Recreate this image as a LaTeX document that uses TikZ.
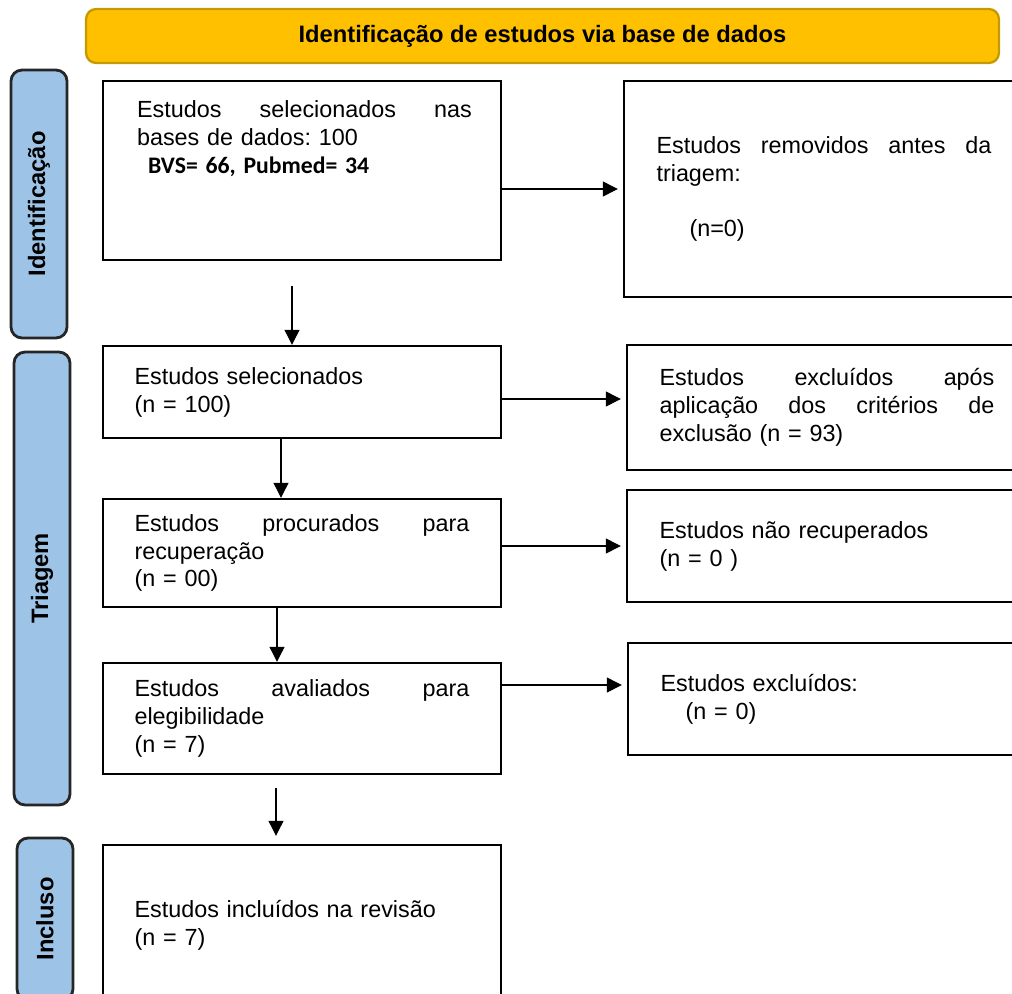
\documentclass[tikz,border=0pt]{standalone}
\usepackage{fontspec}
\setmainfont{Liberation Sans}
\newfontfamily\calibrifont{Carlito}
\usepackage{tikz}
\usetikzlibrary{arrows.meta}
\frenchspacing

\definecolor{headgold}{HTML}{FFC000}
\definecolor{headline}{HTML}{C49A00}
\definecolor{sideblue}{HTML}{9DC3E6}

\begin{document}
\begin{tikzpicture}[
  x=0.02cm, y=-0.02cm,
  every node/.style={font=\fontsize{13.3}{15.9}\selectfont},
  header/.style={draw=headline, line width=1.3pt, fill=headgold, rounded corners=0.2cm,
    minimum width=18.26cm, minimum height=1.08cm, font=\fontsize{13.5}{16}\selectfont\bfseries},
  phase/.style={draw=black!85, line width=1.6pt, fill=sideblue, rounded corners=0.22cm,
    rotate=90, minimum height=1.12cm, font=\fontsize{13.5}{16}\selectfont\bfseries},
  box/.style={draw, line width=1.4pt, text width=6.7cm, inner xsep=0.63cm, align=left},
  rbox/.style={box, inner xsep=0.65cm},
  arr/.style={-{Triangle[length=0.3cm,width=0.3cm]}, line width=0.7pt, shorten >=0.1cm}
]
\useasboundingbox (0,0) rectangle (1012,994);
\clip (0,0) rectangle (1012,994);

% --- cabecalho ---
\node[header] (head) at (542.5,36) {Identificação de estudos via base de dados};

% --- fases ---
\node[phase, minimum width=5.36cm] (fid)  at (39,204)   {Identificação};
\node[phase, minimum width=9.06cm] (ftri) at (42,578.5) {Triagem};
\node[phase, minimum width=3.24cm] (finc) at (45,919)   {Incluso};

% --- coluna esquerda ---
\node[box, minimum height=3.58cm] (b1) at (302,170.5) {};
\node[box, draw=none, inner sep=0pt, anchor=north west] (b1txt)
  at ([xshift=0.68cm,yshift=-0.4cm]b1.north west)
  {Estudos\hfill selecionados\hfill nas\\bases de dados: 100\\
   \hspace*{0.22cm}{\calibrifont\fontsize{13.5}{15.9}\selectfont\bfseries BVS= 66, Pubmed= 34}};
\node[box, minimum height=1.84cm] (b2) at (302,392)   {Estudos selecionados\\(n = 100)};
\node[box, minimum height=2.16cm] (b3) at (302,553)   {Estudos\hfill procurados\hfill para\\recuperação\\(n = 00)};
\node[box, minimum height=2.22cm] (b4) at (302,718.5) {Estudos\hfill avaliados\hfill para\\elegibilidade\\(n = 7)};
\node[box, minimum height=3.2cm]  (b5) at (302,925)   {Estudos incluídos na revisão\\(n = 7)};

% --- coluna direita ---
\node[rbox, minimum height=4.32cm] (r1) at (824,189)
  {Estudos\hfill removidos\hfill antes\hfill da\\triagem:\\[15.9pt]\hspace*{0.66cm}(n=0)};
\node[rbox, minimum height=2.5cm]  (r2) at (827,407.5)
  {Estudos\hfill excluídos\hfill após\\aplicação\hfill dos\hfill critérios\hfill de\\exclusão (n = 93)};
\node[rbox, minimum height=2.24cm] (r3) at (827,546) {Estudos não recuperados\\(n = 0 )};
\node[rbox, minimum height=2.24cm] (r4) at (828,699) {Estudos excluídos:\\\hspace*{0.5cm}(n = 0)};

% --- setas ---
\coordinate (a2) at ([yshift=-0.14cm]b2.east);
\coordinate (a4) at ([yshift=0.28cm]r4.west);
\draw[arr] (b1.east |- r1.west) -- (r1.west);
\draw[arr] (a2) -- (a2 -| r2.west);
\draw[arr] (b3.east |- r3.west) -- (r3.west);
\draw[arr] (a4 -| b4.east) -- (a4);

\draw[arr, shorten <=0.5cm, shorten >=0pt] ([xshift=-0.2cm]b1.south) -- ([xshift=-0.2cm]b2.north);
\draw[arr, shorten >=0pt] ([xshift=-0.42cm]b2.south) -- ([xshift=-0.42cm]b3.north);
\draw[arr, shorten >=0pt] ([xshift=-0.5cm]b3.south) -- ([xshift=-0.5cm]b4.north);
\draw[arr, shorten <=0.26cm, shorten >=0.16cm] ([xshift=-0.52cm]b4.south) -- ([xshift=-0.52cm]b5.north);

\end{tikzpicture}
\end{document}
